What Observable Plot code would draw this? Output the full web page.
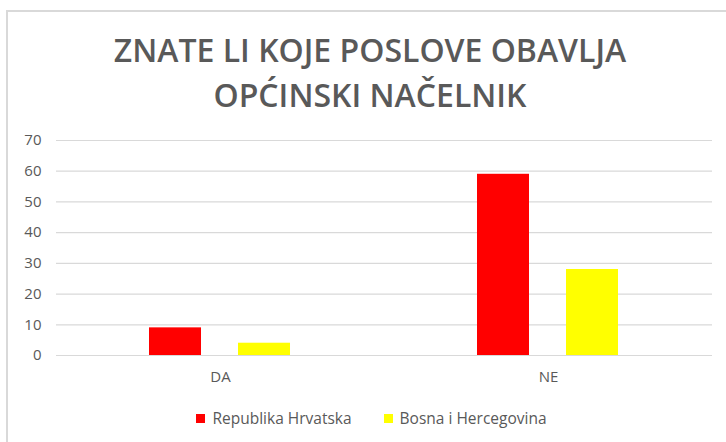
<!DOCTYPE html>
<html>
<head>
<meta charset="utf-8">
<script src="https://cdn.jsdelivr.net/npm/d3@7"></script>
<script src="https://cdn.jsdelivr.net/npm/@observablehq/plot@0.6"></script>
<style>
  html, body { margin: 0; padding: 0; background: #fff; }
  body { width: 726px; height: 442px; position: relative; overflow: hidden; font-family: "Open Sans", sans-serif; }
  #frame { position: absolute; left: 6px; top: 10px; width: 740px; height: 460px; border: 2px solid #d9d9d9; box-sizing: border-box; }
  #title { position: absolute; left: 0; width: 740px; top: 27px; text-align: center; font-size: 32px; line-height: 45px; font-weight: 600; color: #595959; letter-spacing: 0px; }
  #chart { position: absolute; left: 0; top: 130px; }
  #legend { position: absolute; left: 0; width: 743px; top: 407px; display: flex; justify-content: center; gap: 32px; font-size: 15.5px; color: #595959; }
  .item { display: flex; align-items: center; gap: 7px; }
  .sw { width: 9px; height: 9px; display: inline-block; }
</style>
</head>
<body>
<div id="frame"></div>
<div id="title">ZNATE LI KOJE POSLOVE OBAVLJA<br>OPĆINSKI NAČELNIK</div>
<div id="chart"></div>
<div id="legend"></div>
<script>
const categories = ["DA", "NE"];
const series = ["Republika Hrvatska", "Bosna i Hercegovina"];
const colors = ["#ff0000", "#ffff00"];
const valuesHrvatska = [9, 59];
const valuesBiH = [4, 28];
const yTicks = [0, 10, 20, 30, 40, 50, 60, 70];

const data = [];
categories.forEach((c, i) => {
  data.push({cat: c, series: series[0], value: valuesHrvatska[i]});
  data.push({cat: c, series: series[1], value: valuesBiH[i]});
});

const chart = Plot.plot({
  width: 726,
  height: 265,
  marginTop: 10,
  marginBottom: 40,
  marginLeft: 55,
  marginRight: 14,
  style: {fontFamily: "Open Sans, sans-serif", fontSize: "15px", color: "#595959", background: "transparent"},
  fx: {domain: categories, padding: 0, label: null},
  x: {domain: series, paddingInner: 0.411, paddingOuter: 1.03, axis: null},
  y: {domain: [0, 70], ticks: yTicks, label: null},
  color: {domain: series, range: colors},
  marks: [
    Plot.ruleY(yTicks, {stroke: "#d9d9d9", strokeWidth: 1.2}),
    Plot.barY(data, {fx: "cat", x: "series", y: "value", fill: "series"}),
    Plot.axisY({ticks: yTicks, tickSize: 0, tickPadding: 15, label: null, fill: "#595959", fontSize: 15}),
    Plot.axisFx({anchor: "bottom", tickSize: 0, tickPadding: 16, label: null, fill: "#595959", fontSize: 15})
  ]
});
document.getElementById("chart").appendChild(chart);

const legend = document.getElementById("legend");
series.forEach((s, i) => {
  const it = document.createElement("div");
  it.className = "item";
  it.innerHTML = `<span class="sw" style="background:${colors[i]}"></span><span>${s}</span>`;
  legend.appendChild(it);
});
</script>
</body>
</html>
